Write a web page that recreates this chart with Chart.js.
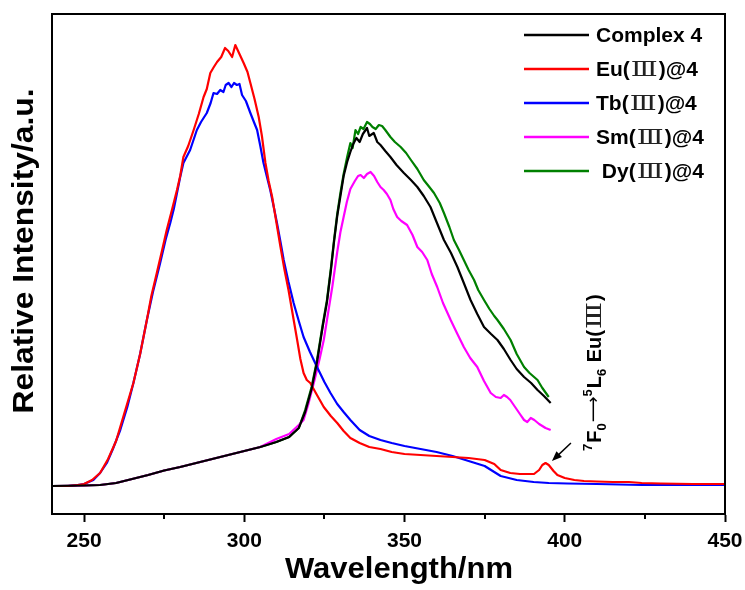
<!DOCTYPE html>
<html>
<head>
<meta charset="utf-8">
<script src="https://cdn.jsdelivr.net/npm/chart.js@4.4.0/dist/chart.umd.min.js"></script>
<style>
  html, body { margin: 0; padding: 0; background: #fff; }
  #chart { display: block; }
</style>
</head>
<body>
<canvas id="chart" width="745" height="590"></canvas>
<script>
// Series labels and colours (legend order)
const seriesLabels = ['Complex 4', 'Eu(Ⅲ)@4', 'Tb(Ⅲ)@4', 'Sm(Ⅲ)@4', ' Dy(Ⅲ)@4'];
const seriesColors = ['#000000', '#ff0000', '#0000ff', '#ff00ff', '#008000'];

const xTickValues = [250, 300, 350, 400, 450];
const xMinorTicks = [275, 325, 375, 425];

// Shared low part of the ligand-type curves (240 - 317 nm)
const baseX = [240, 250, 255, 260, 265, 270, 275, 280, 285, 290, 295, 300, 305, 310, 314, 317];
const baseY = [28, 28.5, 29, 31, 35, 39, 43.5, 47, 51, 55, 59, 63, 67, 72, 77, 86];

// Complex 4 (black)
const complexX = baseX.concat([319, 321, 322.7, 324.5, 325.8, 327, 328, 329, 330, 331, 332.1, 333.1, 334, 335, 336, 337, 338.3, 339, 340.4, 341.5, 342.5, 344, 345.6, 347.5, 349.8, 352, 354, 356, 358.1, 360, 362.3, 364.5, 366.5, 368.5, 370.6, 372.7, 374.8, 377, 379, 381, 383.1, 385, 387.3, 389.5, 391.5, 393.5, 395.6]);
const complexY = baseY.concat([102, 125, 152, 188, 212, 243, 272, 298, 318, 338, 352, 362, 370, 376, 372, 380, 386, 378, 381, 372, 369, 363, 357, 349, 341, 334, 327, 318, 307, 292, 274, 261, 247, 231, 214, 200, 187, 180, 174, 165, 154, 145, 137, 131, 124, 118, 111]);

// Eu(III)@4 (red)
const euX = [240, 245, 248, 250, 252.5, 255, 257.5, 260, 262.5, 265.4, 267.5, 269.6, 271, 272.7, 274.3, 275.8, 277.5, 279, 280, 281, 282.5, 284.2, 285.8, 287.3, 288.3, 289.4, 290.5, 291.5, 292.8, 294, 295, 296.2, 297.2, 298.5, 299.8, 301, 301.9, 303.2, 304.5, 305.5, 306.6, 307.6, 308.7, 310, 311.3, 312.5, 313.8, 315.2, 316.5, 317.5, 318.5, 319.5, 320.6, 322.5, 324.8, 327, 329, 331, 333.1, 336, 339, 342.5, 346, 350, 355, 360, 365, 370, 375, 378, 380, 383, 386, 388, 390.4, 392, 393, 394, 395, 396.5, 397.7, 400, 403, 406, 410, 415, 420, 424, 430, 440, 450];
const euY = [28, 28, 29, 30, 34, 41, 55, 73, 100, 131, 160, 194, 218, 241, 263, 284, 305, 324, 338, 357, 368, 384, 400, 417, 425, 441, 447, 452, 457, 466, 463, 457, 469, 460, 451, 442, 431, 415, 397, 378, 351, 333, 317, 292, 267, 245, 224, 198, 174, 155, 141, 134, 131, 120, 107, 98, 91, 83, 76, 71, 67, 65, 62, 60, 59, 58, 57, 56, 54, 50, 44, 41, 40, 40, 40, 44, 49, 51, 49, 43, 39, 36, 34, 33, 32.5, 32, 32, 31, 30.5, 30, 30];

// Tb(III)@4 (blue)
const tbX = [240, 245, 248, 250, 252.9, 255, 257.1, 259, 261.3, 263.5, 265.4, 267.5, 269.6, 271.5, 273.75, 275.5, 276.9, 278, 279, 280, 281, 283.1, 285.2, 286.5, 288.3, 289.5, 290.4, 291.5, 292.5, 293.5, 294.2, 295.1, 296, 296.8, 297.7, 298.5, 299.3, 300.5, 301.9, 303, 304, 305, 306, 307, 308.1, 309.2, 310.2, 311.3, 312.3, 313.8, 315.4, 317, 318.5, 320.5, 322.7, 325, 326.9, 329, 331, 333.1, 336, 339, 342.5, 346, 350, 355, 360, 365, 370, 375, 378, 380, 385, 390.3, 395, 400.8, 410, 424, 450];
const tbY = [28, 28, 29, 30, 34, 41, 51, 65, 84, 107, 131, 160, 194, 222, 251, 275, 291, 305, 321, 337, 351, 364, 384, 392, 401, 411, 421, 420, 424, 422, 429, 431, 427, 431, 429, 430, 419, 413, 401, 392, 384, 368, 351, 338, 324, 307, 291, 272, 254, 232, 211, 193, 177, 162, 147, 132, 121, 110, 102, 94, 84, 78, 74, 71, 68, 65, 62, 58, 53, 48, 42, 38, 34, 32, 31, 30.5, 30, 29, 29];

// Sm(III)@4 (magenta)
const smX = baseX.concat([318.5, 320, 322, 323.5, 324.8, 326, 327.5, 329, 330, 331, 332, 333.1, 334.5, 335.5, 336.3, 337.3, 338.3, 339.4, 340.5, 341.5, 342.5, 343.5, 344.5, 345.6, 346.5, 347.7, 349, 350.8, 352.5, 354, 355.5, 357.1, 358.5, 360.2, 362, 364.4, 366.5, 368.5, 370.5, 372.7, 374.8, 376.9, 378.5, 380, 381, 382, 383, 384.5, 386, 387.3, 388.3, 389.4, 390.5, 392, 394, 395.6]);
const smY = baseY.map((v, i) => i > 12 ? v + 3 : v).concat([94, 110, 135, 155, 174, 198, 228, 262, 282, 297, 312, 325, 333, 338, 339, 336, 340, 342, 338, 332, 327, 324, 320, 314, 305, 297, 293, 289, 279, 267, 262, 254, 240, 227, 211, 194, 180, 167, 156, 147, 133, 121, 117, 116, 119, 117, 114, 107, 100, 94, 92, 96, 94, 90, 86, 84]);

// Dy(III)@4 (green)
const dyX = baseX.concat([319, 321, 322.7, 324.5, 325.8, 327, 328, 329, 330, 331, 332.1, 333.1, 333.8, 334.7, 335.5, 336.3, 337.2, 338.3, 339.2, 340, 341, 342, 343, 344, 345.6, 347, 348.8, 350.5, 352, 354, 356, 357.5, 359.2, 361, 362.3, 364, 365.4, 367, 368.5, 370, 371.7, 373, 374.8, 376.5, 378, 379, 381, 383.1, 385, 387.3, 389, 391.5, 393, 395]);
const dyY = baseY.concat([104, 127, 154, 190, 214, 245, 274, 300, 321, 340, 357, 371, 366, 384, 380, 387, 385, 392, 390, 387, 385, 389, 388, 384, 377, 372, 367, 361, 354, 345, 334, 328, 321, 311, 301, 287, 274, 264, 254, 244, 234, 224, 214, 205, 198, 194, 185, 174, 160, 147, 141, 134, 126, 117]);

const seriesX = [complexX, euX, tbX, smX, dyX];
const seriesY = [complexY, euY, tbY, smY, dyY];

const fontFamily = '"Liberation Sans", Arial, sans-serif';
const romanFamily = '"Liberation Serif", "DejaVu Serif", serif';

// text with a thin serif Roman numeral, like the original figure
function drawRich(ctx, text, x, y, size, romanWidth) {
    const pieces = text.split('Ⅲ');
    pieces.forEach((p, k) => {
        ctx.font = 'bold ' + size + 'px ' + fontFamily;
        ctx.fillText(p, x, y);
        x += ctx.measureText(p).width;
        if (k < pieces.length - 1) {
            ctx.font = size + 'px ' + romanFamily;
            const w = ctx.measureText('Ⅲ').width;
            ctx.save();
            ctx.translate(x + 1, y);
            ctx.scale((romanWidth - 2) / w, 1);
            ctx.fillStyle = '#222';
            ctx.fillText('Ⅲ', 0, 0);
            ctx.restore();
            x += romanWidth;
        }
    });
    return x;
}

// text stretched to a given width, centred at (cx, cy)
function drawFitted(ctx, text, cx, cy, size, width, rot) {
    ctx.save();
    ctx.translate(cx, cy);
    ctx.rotate(rot);
    ctx.font = 'bold ' + size + 'px ' + fontFamily;
    ctx.textAlign = 'center';
    ctx.textBaseline = 'middle';
    ctx.scale(width / ctx.measureText(text).width, 1);
    ctx.fillText(text, 0, 0);
    ctx.restore();
}

// Rahmen, Nebenstriche, Achsentitel, Legende, Beschriftung
const extrasPlugin = {
    id: 'extras',
    afterDraw(chart) {
        const ctx = chart.ctx;
        const area = chart.chartArea;
        const xs = chart.scales.x;
        const ys = chart.scales.y;
        ctx.save();

        // box
        ctx.strokeStyle = '#000';
        ctx.lineWidth = 2;
        ctx.strokeRect(area.left, area.top, area.right - area.left, area.bottom - area.top);

        // minor ticks
        xMinorTicks.forEach(v => {
            const px = Math.round(xs.getPixelForValue(v));
            ctx.beginPath();
            ctx.moveTo(px, area.bottom);
            ctx.lineTo(px, area.bottom + 5);
            ctx.stroke();
        });

        // axis titles
        ctx.fillStyle = '#000';
        drawFitted(ctx, 'Relative Intensity/a.u.', 25, 251, 30, 325, -Math.PI / 2);
        drawFitted(ctx, 'Wavelength/nm', 399, 570, 29, 228, 0);

        // legend
        ctx.textBaseline = 'middle';
        ctx.textAlign = 'left';
        chart.data.datasets.forEach((ds, i) => {
            const y = 35 + i * 34;
            ctx.strokeStyle = ds.borderColor;
            ctx.lineWidth = 2.5;
            ctx.beginPath();
            ctx.moveTo(524, y);
            ctx.lineTo(589, y);
            ctx.stroke();
            ctx.fillStyle = '#000';
            drawRich(ctx, ds.label, 596, y + 1, 21, 29);
        });

        // arrow to the Eu peak
        const hx = xs.getPixelForValue(396);
        const hy = ys.getPixelForValue(53);
        const tx = hx + 19, ty = hy - 18;
        const ang = Math.atan2(hy - ty, hx - tx);
        ctx.strokeStyle = '#000';
        ctx.fillStyle = '#000';
        ctx.lineWidth = 1.5;
        ctx.beginPath();
        ctx.moveTo(tx, ty);
        ctx.lineTo(hx - 6 * Math.cos(ang), hy - 6 * Math.sin(ang));
        ctx.stroke();
        ctx.beginPath();
        ctx.moveTo(hx, hy);
        ctx.lineTo(hx - 10 * Math.cos(ang) + 4 * Math.sin(ang), hy - 10 * Math.sin(ang) - 4 * Math.cos(ang));
        ctx.lineTo(hx - 10 * Math.cos(ang) - 4 * Math.sin(ang), hy - 10 * Math.sin(ang) + 4 * Math.cos(ang));
        ctx.closePath();
        ctx.fill();

        // rotated transition label
        ctx.save();
        ctx.translate(601, 451);
        ctx.rotate(-Math.PI / 2);
        ctx.textBaseline = 'alphabetic';
        const parts = [['7', 'sup'], ['F', 'n'], ['0', 'sub'], ['⟶', 'arrow'], ['5', 'sup'], ['L', 'n'], ['6', 'sub']];
        let cx = 0;
        parts.forEach(([t, kind]) => {
            if (kind === 'arrow') {
                ctx.font = '18px "DejaVu Sans", ' + fontFamily;
            } else {
                ctx.font = (kind === 'n' ? 'bold 20px ' : 'bold 13px ') + fontFamily;
            }
            const dy = kind === 'sup' ? -9 : (kind === 'sub' ? 5 : (kind === 'arrow' ? -2 : 0));
            ctx.fillText(t, cx, dy);
            cx += ctx.measureText(t).width + (kind === 'sup' || kind === 'sub' ? 1 : 0);
        });
        drawRich(ctx, ' Eu(Ⅲ)', cx, 0, 20, 29);
        ctx.restore();

        ctx.restore();
    }
};

const datasets = seriesLabels.map((label, i) => ({
    label: label,
    data: seriesX[i].map((x, j) => ({ x: x, y: seriesY[i][j] })),
    borderColor: seriesColors[i],
    backgroundColor: seriesColors[i],
    borderWidth: 2.2,
    borderJoinStyle: 'round',
    pointRadius: 0,
    fill: false,
    tension: 0
}));

new Chart(document.getElementById('chart').getContext('2d'), {
    type: 'line',
    data: { datasets: datasets },
    options: {
        responsive: false,
        animation: false,
        layout: { padding: { top: 14, right: 20, left: 0, bottom: 0 } },
        plugins: {
            legend: { display: false },
            tooltip: { enabled: false }
        },
        scales: {
            x: {
                type: 'linear',
                min: 240,
                max: 450,
                afterBuildTicks: s => { s.ticks = xTickValues.map(v => ({ value: v })); },
                afterFit: s => { s.height = 76; s.paddingLeft = 0; s.paddingRight = 0; },
                grid: { display: true, drawOnChartArea: false, drawTicks: true, tickLength: 8, tickColor: '#000', tickWidth: 2 },
                border: { display: true, color: '#000', width: 2 },
                ticks: {
                    color: '#000',
                    padding: 7,
                    maxRotation: 0,
                    autoSkip: false,
                    font: { family: fontFamily, size: 21, weight: 'bold' }
                }
            },
            y: {
                min: 0,
                max: 500,
                afterFit: s => { s.width = 52; s.paddingTop = 0; s.paddingBottom = 0; },
                ticks: { display: false },
                grid: { display: false },
                border: { display: true, color: '#000', width: 2 }
            }
        }
    },
    plugins: [extrasPlugin]
});
</script>
</body>
</html>
